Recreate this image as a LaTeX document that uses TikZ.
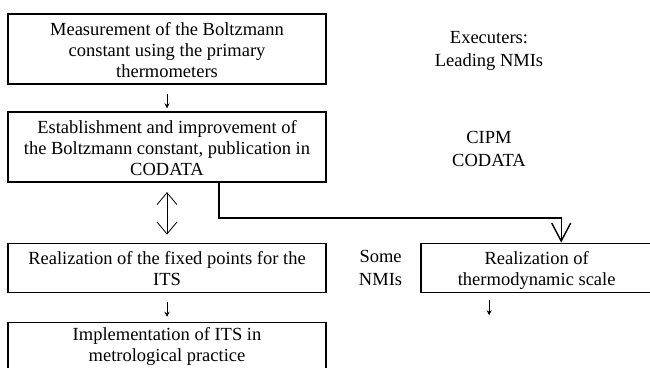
\documentclass[tikz,border=0pt]{standalone}
\usepackage{fontspec}
\setmainfont{Liberation Serif}
\usetikzlibrary{arrows.meta}
\usetikzlibrary{positioning}

\newcommand{\topstrut}{\rule{0pt}{21pt}}
\newcommand{\botstrut}{\rule[-7pt]{0pt}{7pt}}

\begin{document}
\begin{tikzpicture}[x=1pt,y=-1pt]
			\tikzstyle{stage}=[draw,line width=1.7pt,inner sep=0pt,align=center,minimum width=318pt,font=\fontsize{18.5}{21}\selectfont]
			\tikzstyle{side}=[inner sep=0pt,align=center,font=\fontsize{18.5}{23}\selectfont]

			\useasboundingbox (0,0) rectangle (650,367);

			\node (meas) [stage] at (167,49) {\topstrut Measurement of the Boltzmann\\constant using the primary\\thermometers\botstrut};
			\node (est) [stage,below=26.5pt of meas] {\topstrut Establishment and improvement of\\the Boltzmann constant, publication in\\CODATA\botstrut};
			\node (fix) [stage,below=59.5pt of est] {\topstrut Realization of the fixed points for the\\ITS\botstrut};
			\node (impl) [stage,below=28.5pt of fix] {\rule{0pt}{17.5pt}Implementation of ITS in\\metrological practice\rule[-12pt]{0pt}{12pt}};
			\node (thermo) [stage,minimum width=231pt,right=93.5pt of fix] {\topstrut Realization of\\thermodynamic scale\botstrut};

			\node (exec) [side] at (489,51) {Executers:\\Leading NMIs};
			\node (cipm) [side] at (489,149) {CIPM\\CODATA};
			\node (some) [side,left=18pt of thermo] {Some\\NMIs};

			\coordinate (tout) at ([xshift=-47.5pt,yshift=-22pt]thermo.south);

			\path[-{Stealth[length=5pt,width=5pt]},line width=0.7pt]
			(meas) edge [shorten <=9pt, shorten >=3pt] (est)
			(fix) edge [shorten <=9pt, shorten >=5pt] (impl)
			(tout |- thermo.south) edge [shorten <=7pt] (tout);
			\path[{Straight Barb[length=12pt,width=20pt]}-{Straight Barb[length=12pt,width=20pt]},line width=0.8pt]
			(est) edge [shorten <=9pt, shorten >=8pt] (fix);
			\draw[-{Straight Barb[length=18pt,width=19pt]},line width=1.4pt]
			([xshift=52pt]est.south) -- ++(0,35) -| ([xshift=24.5pt]thermo.north);

\end{tikzpicture}
\end{document}
